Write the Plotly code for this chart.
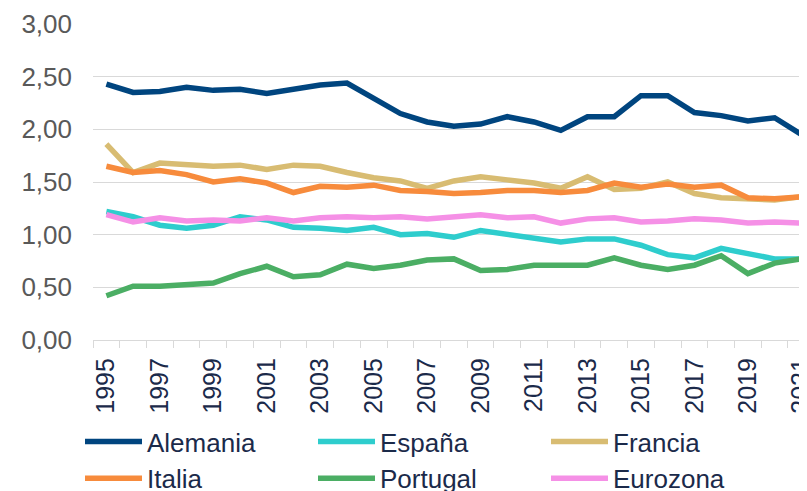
import plotly.graph_objects as go

years = list(range(1995, 2022))
alemania = [2.43, 2.35, 2.36, 2.40, 2.37, 2.38, 2.34, 2.38, 2.42, 2.44, 2.29, 2.15, 2.07, 2.03, 2.05, 2.12, 2.07, 1.99, 2.12, 2.12, 2.32, 2.32, 2.16, 2.13, 2.08, 2.11, 1.95]
espana = [1.22, 1.17, 1.09, 1.06, 1.09, 1.17, 1.14, 1.07, 1.06, 1.04, 1.07, 1.00, 1.01, 0.975, 1.04, 1.00, 0.96, 0.93, 0.96, 0.96, 0.90, 0.81, 0.78, 0.87, 0.82, 0.77, 0.77]
francia = [1.86, 1.59, 1.68, 1.67, 1.65, 1.66, 1.62, 1.66, 1.65, 1.59, 1.54, 1.51, 1.44, 1.51, 1.55, 1.52, 1.49, 1.44, 1.55, 1.43, 1.44, 1.50, 1.39, 1.35, 1.34, 1.33, 1.36]
italia = [1.65, 1.59, 1.61, 1.57, 1.50, 1.53, 1.49, 1.40, 1.46, 1.45, 1.47, 1.42, 1.41, 1.39, 1.40, 1.42, 1.42, 1.40, 1.42, 1.49, 1.45, 1.48, 1.45, 1.47, 1.35, 1.34, 1.36]
portugal = [0.42, 0.51, 0.51, 0.53, 0.54, 0.63, 0.70, 0.60, 0.62, 0.72, 0.68, 0.71, 0.76, 0.77, 0.66, 0.67, 0.71, 0.71, 0.71, 0.78, 0.71, 0.67, 0.71, 0.80, 0.63, 0.73, 0.77]
eurozona = [1.19, 1.12, 1.16, 1.13, 1.14, 1.13, 1.16, 1.13, 1.16, 1.17, 1.16, 1.17, 1.15, 1.17, 1.19, 1.16, 1.17, 1.11, 1.15, 1.16, 1.12, 1.13, 1.15, 1.14, 1.11, 1.12, 1.11]

series_names = ["Alemania", "España", "Francia", "Italia", "Portugal", "Eurozona"]
series_values = [alemania, espana, francia, italia, portugal, eurozona]
colors = ["#00457F", "#2ECDCD", "#D8BC72", "#F78B3C", "#4BAE64", "#F590E6"]

label_years = years[::2]
label_text = [str(y) for y in label_years]

fig = go.Figure()
for name, vals, col in zip(series_names, series_values, colors):
    fig.add_trace(go.Scatter(x=years, y=vals, name=name, mode="lines",
                             line=dict(color=col, width=5.5)))

W, H = 799, 483  # page body has an 8px margin
font_family = "Liberation Sans, Arial, sans-serif"
fig.update_layout(
    width=W, height=H,
    margin=dict(l=85, r=0, t=16, b=151, autoexpand=False),
    paper_bgcolor="white", plot_bgcolor="white",
    separators=",.",
    font=dict(family=font_family, size=26, color="#595959"),
    showlegend=True,
    legend=dict(orientation="h", xref="container", yref="container",
                x=72 / W, y=1 - 410 / H, xanchor="left", yanchor="top",
                entrywidth=161, entrywidthmode="pixels", itemwidth=57,
                font=dict(family=font_family, size=26, color="#1B2A4A"),
                tracegroupgap=0, bgcolor="rgba(0,0,0,0)"),
)
fig.update_xaxes(
    range=[1994.5, 1994.5 + (W - 85) / 26.73],
    tickmode="array", tickvals=label_years, ticktext=label_text,
    tickangle=-90, ticks="", ticklabelstandoff=7, automargin=False,
    ticklabeloverflow="allow",
    tickfont=dict(family=font_family, size=25, color="#1B2A4A"),
    showgrid=False, zeroline=False,
    showline=True, linecolor="#D9D9D9", linewidth=1.3,
    minor=dict(tickvals=[y - 0.5 for y in years] + [years[-1] + 0.5],
               ticks="outside", ticklen=7, tickcolor="#D9D9D9", tickwidth=1.3,
               showgrid=False),
)
fig.update_yaxes(
    range=[0, 3], dtick=0.5, tick0=0, tickformat=".2f", automargin=False,
    showgrid=True, gridcolor="#D9D9D9", gridwidth=1.3,
    zeroline=False, ticks="", ticklabelstandoff=20,
    tickfont=dict(family=font_family, size=26, color="#595959"),
)

fig.write_html("out.html")
